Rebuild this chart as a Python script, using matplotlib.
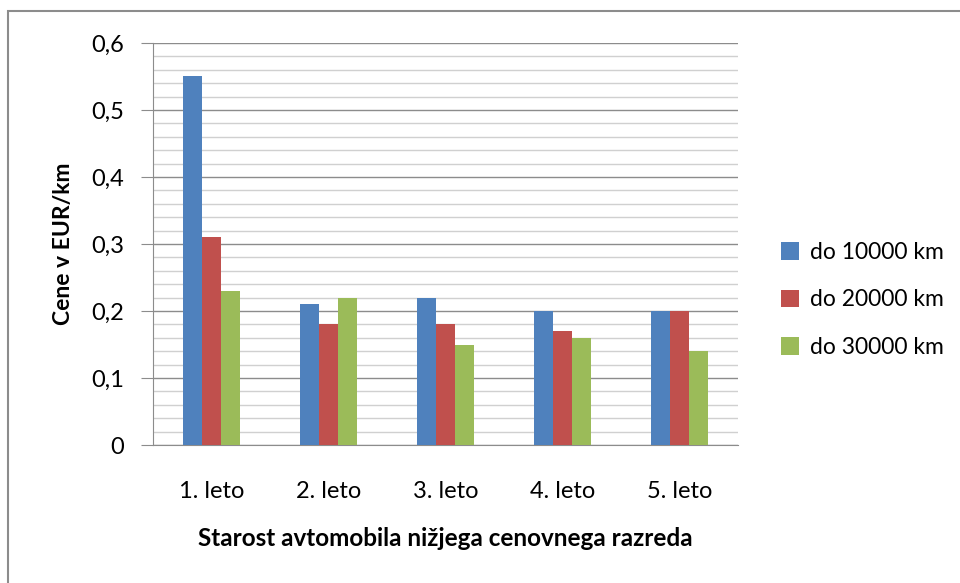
import numpy as np
import matplotlib
matplotlib.use('Agg')
import matplotlib.pyplot as plt
from matplotlib.patches import Rectangle
from matplotlib.ticker import MultipleLocator, FuncFormatter

plt.rcParams['font.family'] = ['Lato', 'DejaVu Sans']

categories = ['1. leto', '2. leto', '3. leto', '4. leto', '5. leto']
series_names = ['do 10000 km', 'do 20000 km', 'do 30000 km']
do_10000 = [0.55, 0.21, 0.22, 0.20, 0.20]
do_20000 = [0.31, 0.18, 0.18, 0.17, 0.20]
do_30000 = [0.23, 0.22, 0.15, 0.16, 0.14]
colors = ['#4F81BD', '#C0504D', '#9BBB59']

fig = plt.figure(figsize=(9.6, 5.83), dpi=100)
ax = fig.add_axes([153/960, 1 - 445/583, (738 - 153)/960, (445 - 43)/583])

# outer chart border (runs off right and bottom edge)
fig.patches.append(Rectangle((8/960, -0.1), 1.2, 1 - 11/583 + 0.1, transform=fig.transFigure,
                             fill=False, edgecolor='#8c8c8c', linewidth=1.5))

x = np.arange(len(categories))
w = 0.165
for i, (vals, name) in enumerate(zip([do_10000, do_20000, do_30000], series_names)):
    ax.bar(x + (i - 1) * w, vals, w, color=colors[i], label=name, zorder=3)

ax.set_xlim(-0.5, len(categories) - 0.5)
ax.set_ylim(0, 0.6)
ax.yaxis.set_major_locator(MultipleLocator(0.1))
ax.yaxis.set_minor_locator(MultipleLocator(0.02))
ax.yaxis.set_major_formatter(FuncFormatter(lambda v, p: '0' if v == 0 else f'{v:.1f}'.replace('.', ',')))
ax.grid(axis='y', which='major', color='#8c8c8c', linewidth=1, zorder=0)
ax.grid(axis='y', which='minor', color='#d0d0d0', linewidth=1, zorder=0)
ax.set_axisbelow(True)

fs = 17
ax.set_xticks(x)
ax.set_xticklabels(categories)
ax.tick_params(axis='x', length=0, labelsize=fs, pad=26)
ax.tick_params(axis='y', which='major', length=9, color='#8c8c8c', labelsize=fs, pad=12)
ax.tick_params(axis='y', which='minor', length=0)

for s in ['top', 'right']:
    ax.spines[s].set_visible(False)
ax.spines['left'].set_color('#8c8c8c')
ax.spines['bottom'].set_color('#8c8c8c')

ax.set_ylabel('Cene v EUR/km', fontsize=16.5, fontweight='bold', labelpad=12)
ax.set_xlabel('Starost avtomobila nižjega cenovnega razreda', fontsize=17.5, fontweight='bold', labelpad=18)

ax.legend(loc='center left', bbox_to_anchor=(781/960, 1 - 300/583), bbox_transform=fig.transFigure,
          frameon=False, fontsize=16.5, borderpad=0, borderaxespad=0,
          handlelength=0.8, handleheight=0.8, handletextpad=0.45, labelspacing=1.15)

fig.savefig('out.png', dpi=100)
